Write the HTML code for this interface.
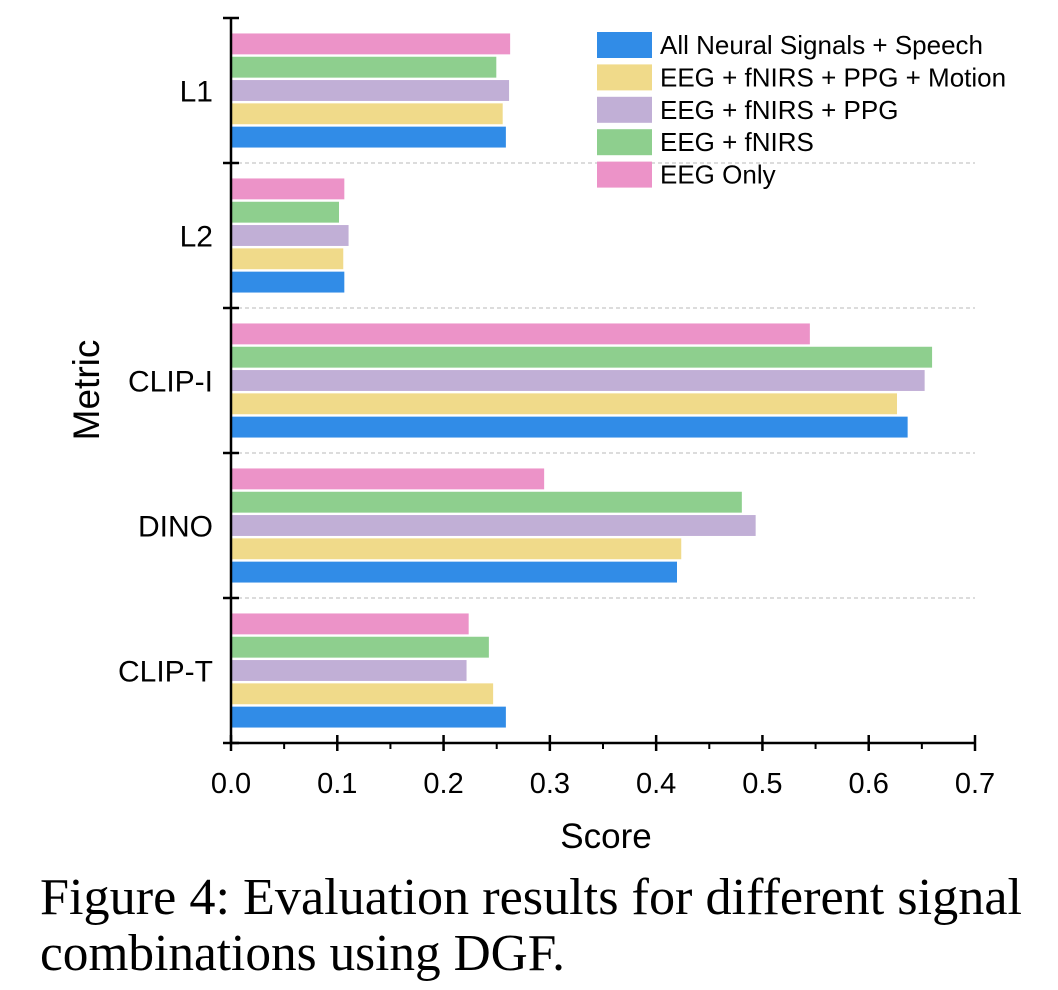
<!DOCTYPE html>
<html><head><meta charset="utf-8"><style>
html,body{margin:0;padding:0;background:#fff;}
svg{display:block;font-family:"Liberation Sans",Arial,sans-serif;}
.cap{font-family:"Liberation Serif","Times New Roman",serif;font-size:52px;fill:#000;}
</style></head><body>
<svg id="chart" width="1058" height="990" viewBox="0 0 1058 990" xmlns="http://www.w3.org/2000/svg">
<g id="grid"></g>
<g id="bars"></g>
<g id="axes"></g>
<g id="legend"></g>
<text x="606" y="848" font-size="35" text-anchor="middle">Score</text>
<text x="0" y="0" font-size="37" text-anchor="middle" transform="translate(99,390) rotate(-90)">Metric</text>
<text class="cap" x="40" y="914" textLength="982" lengthAdjust="spacingAndGlyphs">Figure 4: Evaluation results for different signal</text>
<text class="cap" x="40" y="970" textLength="525" lengthAdjust="spacingAndGlyphs">combinations using DGF.</text>
</svg>
<script>
const categories = ["L1", "L2", "CLIP-I", "DINO", "CLIP-T"];
const seriesNames = ["All Neural Signals + Speech", "EEG + fNIRS + PPG + Motion", "EEG + fNIRS + PPG", "EEG + fNIRS", "EEG Only"];
const allSpeech = [0.259, 0.107, 0.637, 0.420, 0.259];
const motion = [0.256, 0.106, 0.627, 0.424, 0.247];
const ppg = [0.262, 0.111, 0.653, 0.494, 0.222];
const fnirs = [0.250, 0.102, 0.660, 0.481, 0.243];
const eegOnly = [0.263, 0.107, 0.545, 0.295, 0.224];
const xTicks = ["0.0", "0.1", "0.2", "0.3", "0.4", "0.5", "0.6", "0.7"];

const NS = "http://www.w3.org/2000/svg";
const colors = ["#318CE7", "#F0DA8A", "#C1AFD6", "#8ECF8E", "#EC93C8"];
const series = [allSpeech, motion, ppg, fnirs, eegOnly];
const x0 = 231, x1 = 975, xMax = 0.7;
const yTop = 18, yBot = 743;
const groupH = (yBot - yTop) / categories.length;
const x = v => x0 + (v / xMax) * (x1 - x0);
const barH = 21.7, pitch = 23.3;
function mk(tag, attrs, parent) {
  const e = document.createElementNS(NS, tag);
  for (const k in attrs) e.setAttribute(k, attrs[k]);
  parent.appendChild(e);
  return e;
}
const bars = document.getElementById('bars');
const grid = document.getElementById('grid');
const axes = document.getElementById('axes');
const legend = document.getElementById('legend');

categories.forEach((c, i) => {
  const gTop = yTop + i * groupH;
  const center = gTop + groupH / 2;
  if (i > 0) {
    const ln = mk('line', {x1: x0, x2: x1, y1: gTop, y2: gTop, stroke: '#c8c8c8', 'stroke-width': 1.2, 'stroke-dasharray': '4,3'}, grid);
    
    
  }
  for (let s = 0; s < series.length; s++) {
    const slot = series.length - 1 - s;
    const y = center - (series.length * pitch) / 2 + slot * pitch + (pitch - barH) / 2;
    const r = mk('rect', {x: x0, y: y, width: x(series[s][i]) - x0, height: barH, fill: colors[s], stroke: '#fff', 'stroke-width': 0.8}, bars);
    
    
  }
  const t = mk('text', {x: 213, y: center + 11, 'font-size': 30, 'text-anchor': 'end'}, axes);
  t.textContent = c;
  
  
});
for (let i = 0; i <= categories.length; i++) {
  const y = yTop + i * groupH;
  const tk = mk('line', {x1: x0 - 8, x2: x0 + 8, y1: y, y2: y, stroke: '#000', 'stroke-width': 2.5}, axes);
  
  
}
const ya = mk('line', {x1: x0, x2: x0, y1: yTop, y2: yBot, stroke: '#000', 'stroke-width': 2.5}, axes);


const xa = mk('line', {x1: x0, x2: x1, y1: yBot, y2: yBot, stroke: '#000', 'stroke-width': 2.5}, axes);


xTicks.forEach((lab, i) => {
  const v = parseFloat(lab);
  const px = x(v);
  const tk = mk('line', {x1: px, x2: px, y1: yBot - 8, y2: yBot + 8, stroke: '#000', 'stroke-width': 2.5}, axes);
  
  
  if (i < xTicks.length - 1) {
    const mx = x(v + 0.05);
    const m = mk('line', {x1: mx, x2: mx, y1: yBot, y2: yBot + 6, stroke: '#000', 'stroke-width': 2}, axes);
    
    
  }
  const t = mk('text', {x: px, y: 793, 'font-size': 29, 'text-anchor': 'middle'}, axes);
  t.textContent = lab;
  
  
});
seriesNames.forEach((n, i) => {
  const y = 32 + i * 32.4;
  const r = mk('rect', {x: 597, y: y, width: 55, height: 26, fill: colors[i]}, legend);
  
  
  const t = mk('text', {x: 660, y: y + 22, 'font-size': 26}, legend);
  t.textContent = n;
  
  
});
</script>
</body></html>
